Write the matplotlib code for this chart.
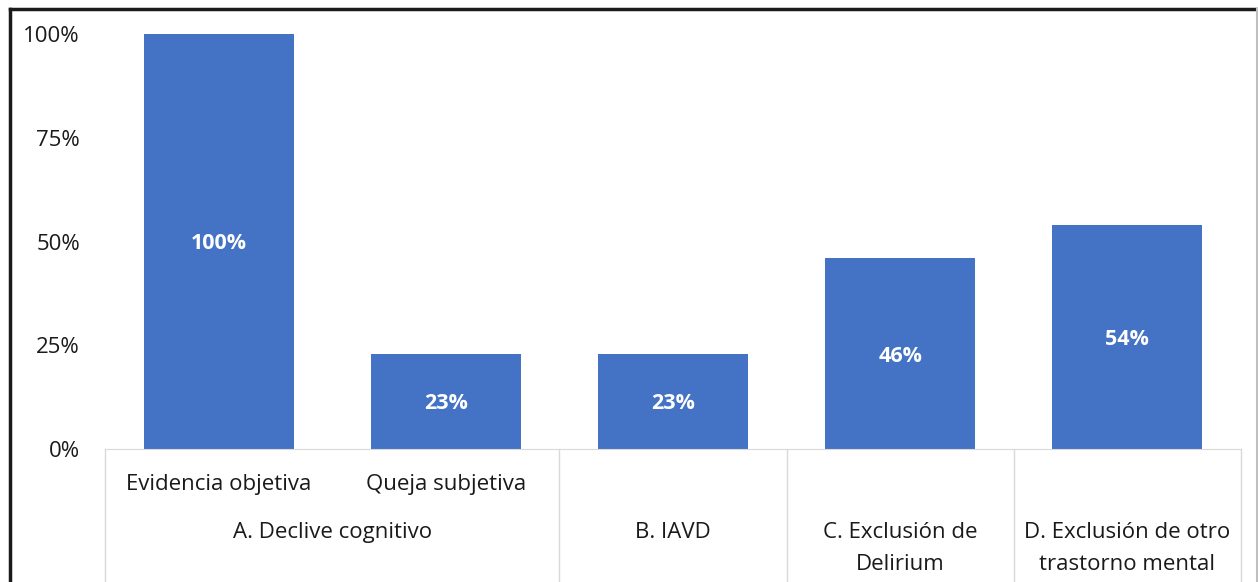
import matplotlib.pyplot as plt
import matplotlib.ticker as mticker
from matplotlib.lines import Line2D

plt.rcParams['font.family'] = ['Open Sans', 'DejaVu Sans']

subcats = ["Evidencia objetiva", "Queja subjetiva", "", "", ""]
groups = ["A. Declive cognitivo", "B. IAVD", "C. Exclusión de\nDelirium",
          "D. Exclusión de otro\ntrastorno mental"]
group_pos = [0.5, 2, 3, 4]
values = [100, 23, 23, 46, 54]
yticks = [0, 25, 50, 75, 100]

fig = plt.figure(figsize=(12.58, 5.82), dpi=100)
W, H = 1258, 582
ax = fig.add_axes([105 / W, (H - 449) / H, (1241 - 105) / W, (449 - 34) / H])

x = list(range(len(values)))
bars = ax.bar(x, values, width=0.66, color="#4472C4")
for b, v in zip(bars, values):
    ax.text(b.get_x() + b.get_width() / 2, v / 2 - 0.6, f"{v}%", ha="center", va="center",
            color="white", fontsize=15.5, fontweight="bold")

ax.set_xlim(-0.5, 4.5)
ax.set_ylim(0, 100)
ax.set_yticks(yticks)
ax.yaxis.set_major_formatter(mticker.FuncFormatter(lambda v, p: f"{int(v)}%"))
ax.tick_params(axis="y", length=0, pad=18, labelsize=16, labelcolor="#1a1a1a")
ax.set_xticks([])
for s in ["top", "right", "left"]:
    ax.spines[s].set_visible(False)
ax.spines["bottom"].set_color("#d9d9d9")

# category labels under the axis
xt = ax.get_xaxis_transform()
for i, lab in enumerate(subcats):
    if lab:
        ax.text(i, -0.085, lab, transform=xt, ha="center", va="center",
                fontsize=16, color="#1a1a1a")
line_y = [-0.202, -0.2795]
for p, g in zip(group_pos, groups):
    for ly, part in zip(line_y, g.split("\n")):
        ax.text(p, ly, part, transform=xt, ha="center", va="center",
                fontsize=16, color="#1a1a1a")

# separators between groups
for sx in [-0.5, 1.5, 2.5, 3.5, 4.5]:
    ax.add_line(Line2D([sx, sx], [0, -0.33], transform=xt,
                       color="#d9d9d9", lw=1, clip_on=False))

# outer frame
fig.add_artist(Line2D([10 / W, 10 / W], [0, 1 - 9 / H], transform=fig.transFigure,
                      color="#1a1a1a", lw=2.5))
fig.add_artist(Line2D([10 / W, 1257 / W], [1 - 9 / H, 1 - 9 / H], transform=fig.transFigure,
                      color="#1a1a1a", lw=2.5))
fig.add_artist(Line2D([1257 / W, 1257 / W], [0, 1 - 9 / H], transform=fig.transFigure,
                      color="#bfbfbf", lw=1.5))

fig.savefig("out.png", dpi=100)
